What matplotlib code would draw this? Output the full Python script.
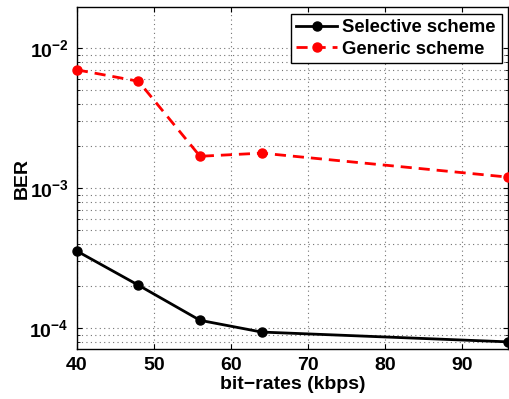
import numpy as np
import matplotlib
matplotlib.use('Agg')
import matplotlib.pyplot as plt

plt.rcParams['font.family'] = ['Liberation Sans', 'DejaVu Sans']
plt.rcParams['font.weight'] = 'bold'
plt.rcParams['mathtext.fontset'] = 'custom'
plt.rcParams['mathtext.rm'] = 'Liberation Sans:bold'
plt.rcParams['mathtext.bf'] = 'Liberation Sans:bold'
plt.rcParams['mathtext.it'] = 'Liberation Sans:bold'
plt.rcParams['mathtext.default'] = 'bf'

bitrates = [40, 48, 56, 64, 96]
selective = [3.56e-4, 2.03e-4, 1.14e-4, 9.4e-5, 8.0e-5]
generic = [7.0e-3, 5.8e-3, 1.69e-3, 1.78e-3, 1.2e-3]

fig = plt.figure(figsize=(5.09, 3.99), dpi=100)
ax = fig.add_axes([0.151, 0.125, 0.847, 0.857])

ax.semilogy(bitrates, selective, 'k-', marker='o', lw=2, ms=6.5, label='Selective scheme', clip_on=False, zorder=3)
ax.semilogy(bitrates, generic, 'r--', marker='o', lw=2, ms=6.5, dashes=(4, 2.5), label='Generic scheme', clip_on=False, zorder=3)

ax.set_xlim(40, 96)
ax.set_ylim(7.1e-5, 1.96e-2)
ax.set_xticks([40, 50, 60, 70, 80, 90])
grid_style = dict(linestyle=(0, (1, 3)), color='0.45', lw=0.8)
ax.grid(True, which='major', **grid_style)
ax.grid(True, which='minor', axis='y', **grid_style)
ax.tick_params(which='both', direction='in', top=True, right=True, labelsize=14, pad=6)
ax.tick_params(axis='y', which='minor', labelleft=False)
for s in ax.spines.values():
    s.set_linewidth(1.0)

ax.set_xlabel('bit\u2212rates (kbps)', fontsize=14, fontweight='bold', labelpad=1)
ax.set_ylabel('BER', fontsize=14, fontweight='bold')
ax.yaxis.set_label_coords(-0.108, 0.5)

leg = ax.legend(loc='upper right', fontsize=13.3, fancybox=False, framealpha=1,
                edgecolor='black', handlelength=2.2, borderpad=0.3,
                labelspacing=0.25, handletextpad=0.3, borderaxespad=0.35)
leg.get_frame().set_linewidth(1.0)

fig.savefig('out.png', dpi=100)
